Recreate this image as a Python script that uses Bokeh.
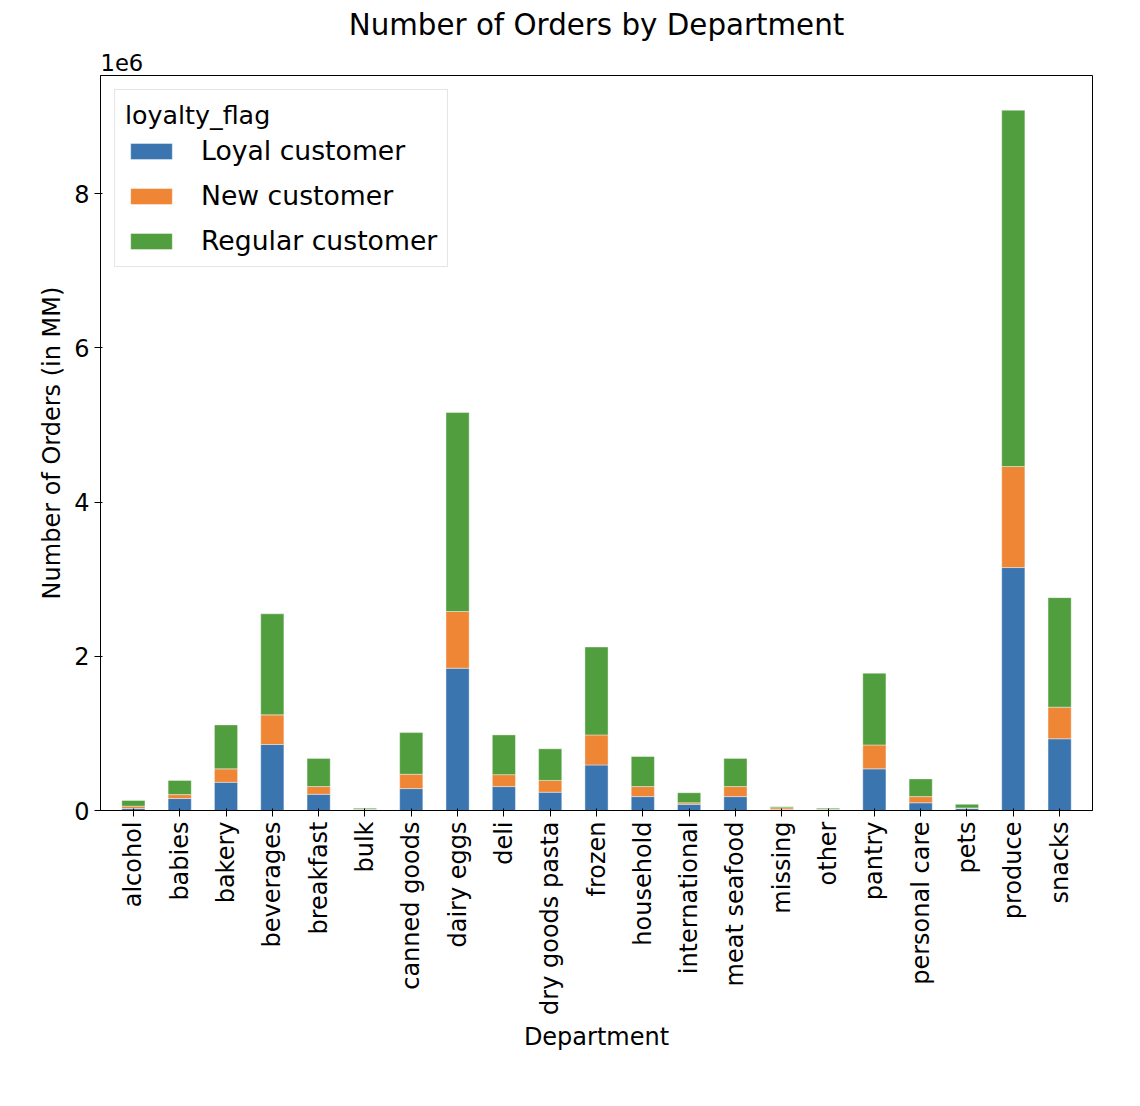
from bokeh.plotting import figure
from bokeh.models import ColumnDataSource, Legend, FixedTicker, Title
from bokeh.embed import file_html
from bokeh.resources import INLINE

departments = ['alcohol', 'babies', 'bakery', 'beverages', 'breakfast', 'bulk', 'canned goods',
               'dairy eggs', 'deli', 'dry goods pasta', 'frozen', 'household', 'international',
               'meat seafood', 'missing', 'other', 'pantry', 'personal care', 'pets', 'produce', 'snacks']
# values in millions of orders
loyal = [0.026, 0.155, 0.366, 0.856, 0.21, 0.012, 0.284, 1.845, 0.31, 0.237, 0.59, 0.18, 0.08,
         0.18, 0.013, 0.012, 0.54, 0.10, 0.026, 3.15, 0.93]
new = [0.030, 0.051, 0.174, 0.384, 0.10, 0.004, 0.186, 0.735, 0.155, 0.153, 0.39, 0.13, 0.02,
       0.13, 0.022, 0.004, 0.31, 0.08, 0.008, 1.31, 0.41]
regular = [0.074, 0.184, 0.57, 1.31, 0.365, 0.014, 0.54, 2.58, 0.515, 0.41, 1.14, 0.39, 0.13,
           0.365, 0.015, 0.014, 0.93, 0.23, 0.046, 4.62, 1.42]

src = ColumnDataSource(dict(dept=departments, loyal=loyal, new=new, regular=regular))

font = "DejaVu Sans"
p = figure(x_range=departments, y_range=(0, 9.53), width=1120, height=1085,
           output_backend="svg", toolbar_location=None,
           title="Number of Orders by Department", min_border_left=100,
           min_border_right=28, min_border_bottom=275)
p.x_range.range_padding = 0.02
colors = ["#3a75af", "#ef8636", "#519e3e"]
rs = p.vbar_stack(['loyal', 'new', 'regular'], x='dept', width=0.5, color=colors,
                  line_color="white", line_alpha=0.4, source=src)

legend = Legend(items=[("Loyal customer", [rs[0]]), ("New customer", [rs[1]]),
                       ("Regular customer", [rs[2]])], location="top_left")
legend.title = "loyalty_flag"
legend.title_text_font = font
legend.title_text_font_size = "19pt"
legend.title_text_font_style = "normal"
legend.title_text_color = "black"
legend.label_text_font = font
legend.label_text_font_size = "20pt"
legend.label_text_color = "black"
legend.border_line_color = "#cccccc"
legend.glyph_width = 52
legend.glyph_height = 20
legend.label_standoff = 24
legend.spacing = 14
legend.padding = 10
legend.margin = 14
p.add_layout(legend)

p.title.text_font = font
p.title.text_font_size = "22pt"
p.title.text_font_style = "normal"
p.title.text_color = "black"
p.title.align = "center"
p.add_layout(Title(text="1e6", align="left", text_font=font, text_font_size="17pt",
                   text_font_style="normal", text_color="black", offset=0), "above")
p.xaxis.axis_label = "Department"
p.yaxis.axis_label = "Number of Orders (in MM)"
for ax in (p.xaxis, p.yaxis):
    ax.axis_label_text_font = font
    ax.axis_label_text_font_size = "18pt"
    ax.axis_label_text_font_style = "normal"
    ax.axis_label_text_color = "black"
    ax.major_label_text_font = font
    ax.major_label_text_font_size = "18pt"
    ax.major_label_text_color = "black"
    ax.axis_line_color = "black"
    ax.major_tick_line_color = "black"
    ax.minor_tick_line_color = None
p.xaxis.major_label_orientation = 1.5708
p.yaxis.ticker = FixedTicker(ticks=[0, 2, 4, 6, 8])
p.xgrid.grid_line_color = None
p.ygrid.grid_line_color = None
p.outline_line_color = "black"
open("out.html", "w").write(file_html(p, INLINE))
